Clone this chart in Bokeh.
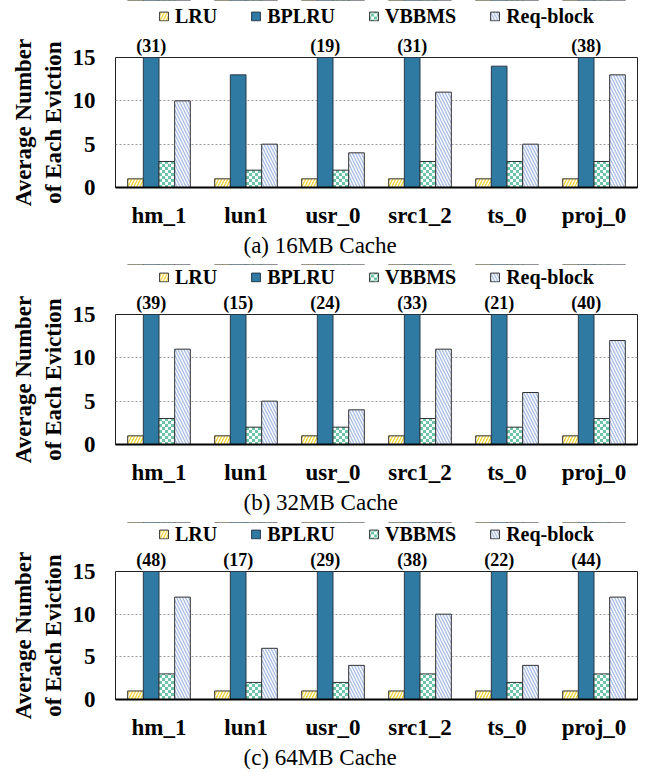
import base64

from bokeh.embed import file_html
from bokeh.layouts import column
from bokeh.models import (ColumnDataSource, FixedTicker, ImageURLTexture,
                          Legend, LegendItem, LinearAxis, Range1d, Title)
from bokeh.core.properties import value
from bokeh.plotting import figure
from bokeh.resources import INLINE
from bokeh.transform import dodge

# ---------------- data ----------------
traces = ["hm_1", "lun1", "usr_0", "src1_2", "ts_0", "proj_0"]
series = ["LRU", "BPLRU", "VBBMS", "Req-block"]
y_ticks = [0, 5, 10, 15]
Y_MAX = 15

lru_16 = [1, 1, 1, 1, 1, 1]
bplru_16 = [31, 13, 19, 31, 14, 38]
vbbms_16 = [3, 2, 2, 3, 3, 3]
reqblock_16 = [10, 5, 4, 11, 5, 13]

lru_32 = [1, 1, 1, 1, 1, 1]
bplru_32 = [39, 15, 24, 33, 21, 40]
vbbms_32 = [3, 2, 2, 3, 2, 3]
reqblock_32 = [11, 5, 4, 11, 6, 12]

lru_64 = [1, 1, 1, 1, 1, 1]
bplru_64 = [48, 17, 29, 38, 22, 44]
vbbms_64 = [3, 2, 2, 3, 2, 3]
reqblock_64 = [12, 6, 4, 10, 4, 12]

captions = ["(a) 16MB Cache", "(b) 32MB Cache", "(c) 64MB Cache"]
y_label = "Average Number\nof Each Eviction"

# ---------------- styles ----------------
FONT = "Liberation Serif"
GREEN = "#6cc5a8"
checker_svg = (
    '<svg xmlns="http://www.w3.org/2000/svg" width="6" height="6">'
    '<rect width="6" height="6" fill="#ffffff"/>'
    f'<rect width="3" height="3" fill="{GREEN}"/>'
    f'<rect x="3" y="3" width="3" height="3" fill="{GREEN}"/></svg>'
)
checker_url = "data:image/svg+xml;base64," + base64.b64encode(checker_svg.encode()).decode()
checker = ImageURLTexture(url=checker_url, repetition="repeat")

styles = {
    "LRU": dict(fill_color="#f4d43c", hatch_pattern="right_diagonal_line", hatch_color="white",
                hatch_scale=6, hatch_weight=1.4, line_color="#333333"),
    "BPLRU": dict(fill_color="#2f7aa3", hatch_pattern=None, line_color="#2a3a48"),
    "VBBMS": dict(fill_color=GREEN, hatch_pattern=value("chk"), hatch_extra={"chk": checker},
                  line_color="#333333"),
    "Req-block": dict(fill_color="#a9bce6", hatch_pattern="left_diagonal_line", hatch_color="white",
                      hatch_scale=6, hatch_weight=1.4, line_color="#333333"),
}
offsets = [-0.27, -0.09, 0.09, 0.27]
BAR_W = 0.18
ANN_BORDER = 21
COLS = ["LRU", "BPLRU", "VBBMS", "Req"]


def make_source(lru, bplru, vbbms, req):
    return ColumnDataSource(dict(idx=list(range(len(traces))), LRU=lru, BPLRU=bplru,
                                 VBBMS=vbbms, Req=req))


def make_legend_fig(h, src):
    # the legend strip: same bar renderers, with a y-range that keeps the bars themselves out of view
    lf = figure(width=647, height=h, x_range=Range1d(-0.5, len(traces) - 0.5),
                y_range=Range1d(-2, -1),
                x_axis_location=None, y_axis_location=None,
                min_border_left=115, min_border_right=10, min_border_top=0, min_border_bottom=0,
                output_backend="svg", toolbar_location=None)
    lf.outline_line_color = None
    lf.grid.visible = False
    items = []
    for name, col, off in zip(series, COLS, offsets):
        r = lf.vbar(x=dodge("idx", off), top=col, width=BAR_W, source=src,
                    line_width=1, **styles[name])
        items.append(LegendItem(label=name, renderers=[r], index=0))
    lf.add_layout(Legend(items=items, orientation="horizontal", location="center",
                         glyph_width=11, glyph_height=11, label_standoff=6, spacing=33,
                         padding=0, margin=0, label_height=20,
                         label_text_font=FONT, label_text_font_style="bold",
                         label_text_font_size="20px", label_text_color="black",
                         background_fill_alpha=0, border_line_alpha=0), "center")
    return lf


def make_panel(src, bplru, caption, bottom_border):
    n = len(traces)
    idx = list(range(n))
    p = figure(x_range=Range1d(-0.5, n - 0.5), y_range=Range1d(0, Y_MAX),
               width=647, height=ANN_BORDER + 134 + bottom_border,
               min_border_left=115, min_border_right=10,
               min_border_top=ANN_BORDER, min_border_bottom=bottom_border,
               output_backend="svg", toolbar_location=None)
    p.outline_line_color = "#222222"
    p.outline_line_width = 1
    p.background_fill_color = "white"
    p.border_fill_color = "white"

    for name, col, off in zip(series, COLS, offsets):
        p.vbar(x=dodge("idx", off), top=col, width=BAR_W, source=src,
               line_width=1, **styles[name])

    # bottom axis: trace names
    xax = p.below[0]
    xax.ticker = FixedTicker(ticks=idx)
    xax.major_label_overrides = dict(zip(idx, traces))
    xax.axis_line_color = "black"
    xax.axis_line_width = 2
    xax.major_label_standoff = 9

    # clipped BPLRU values, written above the frame by an axis whose ticks sit on the BPLRU bars
    ann_pos = [i + offsets[1] for i, v in enumerate(bplru) if v >= Y_MAX]
    ann_txt = [f"({v})" for v in bplru if v >= Y_MAX]
    ann_axis = LinearAxis(ticker=FixedTicker(ticks=ann_pos),
                          major_label_overrides=dict(zip(ann_pos, ann_txt)),
                          axis_line_color=None, major_tick_line_color=None,
                          minor_tick_line_color=None, major_label_standoff=-4,
                          major_label_text_font=FONT, major_label_text_font_style="bold",
                          major_label_text_font_size="18px", major_label_text_color="black")
    p.add_layout(ann_axis, "above")

    # grid / y axis
    p.xgrid.grid_line_color = None
    p.ygrid.ticker = FixedTicker(ticks=y_ticks)
    p.ygrid.grid_line_color = "#9a9a9a"
    p.ygrid.grid_line_dash = "2 2"
    p.ygrid.grid_line_width = 1

    yax = p.left[0]
    yax.ticker = FixedTicker(ticks=y_ticks)
    for ax in (xax, yax):
        ax.major_tick_line_color = None
        ax.minor_tick_line_color = None
        ax.major_label_text_font = FONT
        ax.major_label_text_font_style = "bold"
        ax.major_label_text_font_size = "23px"
        ax.major_label_text_color = "black"
    yax.axis_line_color = None
    yax.major_label_standoff = 14
    yax.axis_label = y_label
    yax.axis_label_text_font = FONT
    yax.axis_label_text_font_style = "bold"
    yax.axis_label_text_font_size = "23px"
    yax.axis_label_text_color = "black"
    yax.axis_label_standoff = 4

    p.add_layout(Title(text=caption, align="left", offset=128, text_font=FONT,
                       text_font_style="normal", text_font_size="23px",
                       text_color="black", standoff=0), "below")
    return p


src16 = make_source(lru_16, bplru_16, vbbms_16, reqblock_16)
src32 = make_source(lru_32, bplru_32, vbbms_32, reqblock_32)
src64 = make_source(lru_64, bplru_64, vbbms_64, reqblock_64)

blocks = [
    make_legend_fig(32, src16), make_panel(src16, bplru_16, captions[0], 77),
    make_legend_fig(25, src32), make_panel(src32, bplru_32, captions[1], 78),
    make_legend_fig(24, src64), make_panel(src64, bplru_64, captions[2], 68),
]

layout = column(*blocks, spacing=0)
open("out.html", "w").write(file_html(layout, INLINE))
